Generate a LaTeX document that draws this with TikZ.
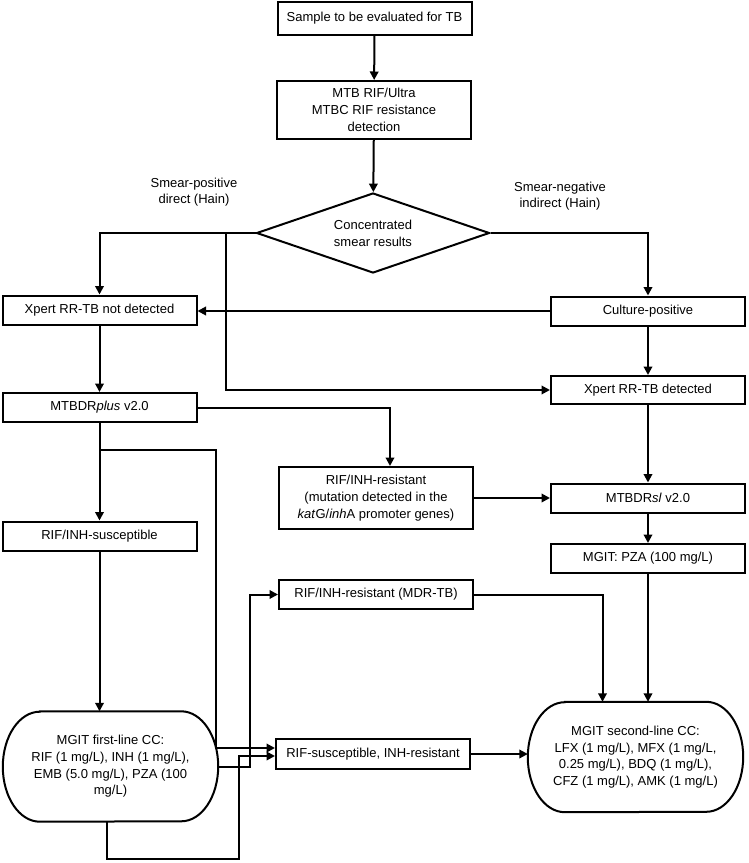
\documentclass[tikz,border=0pt]{standalone}
\usepackage{fontspec}
\setmainfont{Liberation Sans}
\usetikzlibrary{arrows.meta,shapes.geometric,calc}
\newcommand\txtsize{\fontsize{13}{16.7}\selectfont}
\newcommand\ovalrim[1]{%
  \draw[ln] ([xshift=37pt]#1.north west) -- ([xshift=-37pt]#1.north east)
    arc[start angle=90,end angle=-90,x radius=37pt,y radius=55pt]
    -- ([xshift=37pt]#1.south west)
    arc[start angle=270,end angle=90,x radius=37pt,y radius=55pt] -- cycle;}
\tikzset{
  ln/.style={line width=2pt},
  ar/.style={-{Triangle[length=8.5pt,width=8.5pt]},line width=2pt},
  box/.style={draw,line width=2pt,align=center,inner sep=2pt,minimum width=194pt,minimum height=29pt,font=\txtsize},
  dec/.style={draw,diamond,line width=2pt,align=center,inner sep=0pt,shape aspect=2.9,minimum width=233pt,minimum height=80pt,font=\txtsize},
  oval/.style={align=center,inner sep=0pt,minimum width=215pt,minimum height=110pt,font=\txtsize},
  lbl/.style={align=center,font=\txtsize}
}
\begin{document}
\begin{tikzpicture}[x=1pt,y=-1pt]
\useasboundingbox (0,0) rectangle (749,863);
% boxes
\node[box,minimum height=33pt] (sample) at (374.5,18.5) {Sample to be evaluated for TB};
\node[box,minimum height=58pt] (ultra) at (374,110) {MTB RIF/Ultra\\MTBC RIF resistance\\detection};
\node[dec] (smear) at (373,233) {Concentrated\\smear results};
\node[lbl] (pos) at (194,192) {Smear-positive\\direct (Hain)};
\node[lbl] (neg) at (560,196) {Smear-negative\\indirect (Hain)};
\node[box] (notdet) at (99.5,310) {Xpert RR-TB not detected};
\node[box] (culture) at (648,311) {Culture-positive};
\node[box,minimum height=28pt] (detect) at (648,390) {Xpert RR-TB detected};
\node[box] (plus) at (99.5,407.5) {MTBDR\textit{plus} v2.0};
\node[box,minimum height=62pt] (mutat) at (376,498) {RIF/INH-resistant\\(mutation detected in the\\\textit{kat}G/\textit{inh}A promoter genes)};
\node[box] (sl) at (648,498) {MTBDR\textit{sl} v2.0};
\node[box] (susc) at (99.5,536) {RIF/INH-susceptible};
\node[box] (pza) at (648,558.5) {MGIT: PZA (100 mg/L)};
\node[box] (mdr) at (376,594.5) {RIF/INH-resistant (MDR-TB)};
\node[box,minimum height=30pt] (rsir) at (373,754) {RIF-susceptible, INH-resistant};
\node[oval] (first) at (110.5,766.5) {MGIT first-line CC:\\RIF (1 mg/L), INH (1 mg/L),\\EMB (5.0 mg/L), PZA (100\\mg/L)};
\node[oval] (second) at (635.5,757) {MGIT second-line CC:\\LFX (1 mg/L), MFX (1 mg/L,\\0.25 mg/L), BDQ (1 mg/L),\\CFZ (1 mg/L), AMK (1 mg/L)};
\ovalrim{first}
\ovalrim{second}
% bend points
\coordinate (jL) at (226,233);
\coordinate (jT) at (99.5,450);
\coordinate (bA) at (216,748);
\coordinate (bB) at (239,756);
% connectors
\draw[ar] (sample) -- (ultra);
\draw[ar] (ultra) -- (smear);
\draw[ar] (smear.west) -| (notdet.north);
\draw[ar] (smear.east) -| (culture.north);
\draw[ar] (jL) |- (detect.west);
\draw[ar] (culture.west) -- (culture.west -| notdet.east);
\draw[ar] (culture) -- (detect);
\draw[ar] (notdet) -- (plus);
\draw[ar] (plus.east) -| ([xshift=14pt]mutat.north);
\draw[ar] (plus) -- (susc);
\draw[ar] (jT) -| (bA) -- (rsir.west |- bA);
\draw[ar] (susc.south) -- (susc.south |- first.north);
\draw[ar] (first.east) -- ++(32,0) |- (mdr.west);
\draw[ar] ([xshift=-4pt]first.south) -- ++(0,37) -| (bB) -- (rsir.west |- bB);
\draw[ar] (mutat.east) -- (mutat.east -| sl.west);
\draw[ar] (detect) -- (sl);
\draw[ar] (sl) -- (pza);
\draw[ar] (pza.south) -- (pza.south |- second.north);
\draw[ar] (mdr.east) -| ([xshift=-33pt]second.north);
\draw[ar] (rsir.east) -- (rsir.east -| second.west);
\end{tikzpicture}
\end{document}
